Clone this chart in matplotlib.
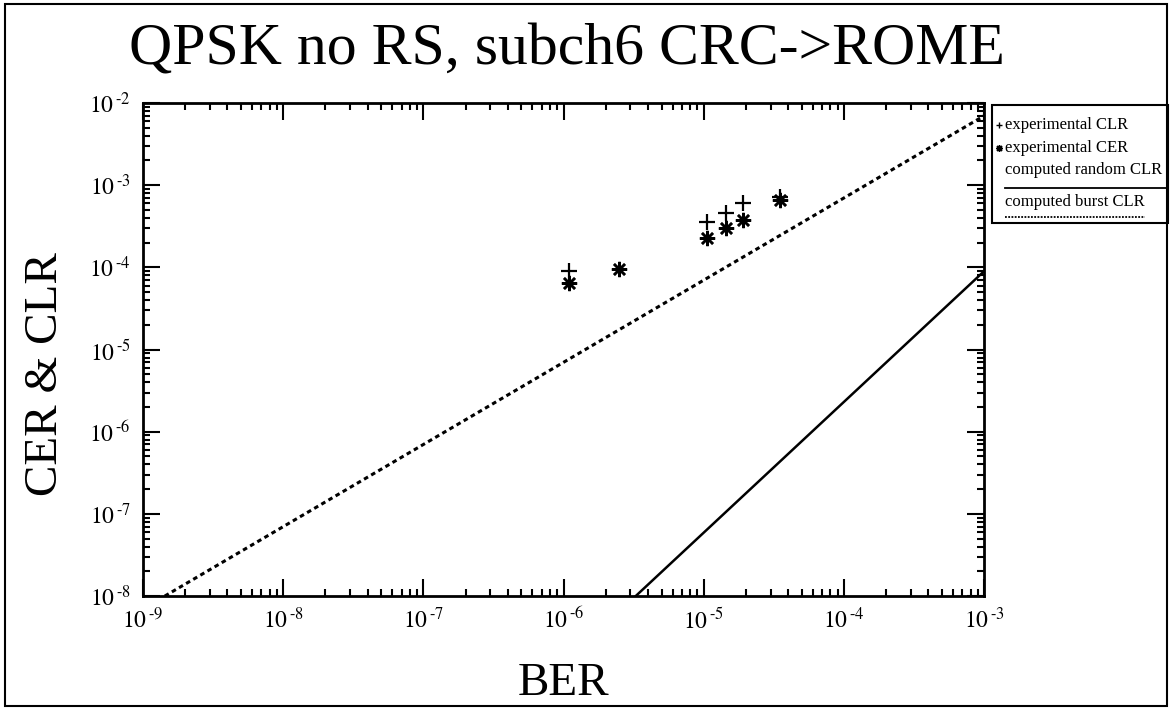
import numpy as np
import matplotlib
matplotlib.use("Agg")
import matplotlib.pyplot as plt
from matplotlib.ticker import LogLocator, FuncFormatter, NullFormatter, FixedLocator
from matplotlib.patches import Rectangle
from matplotlib.lines import Line2D

plt.rcParams['font.family'] = ['Liberation Serif', 'DejaVu Serif']
plt.rcParams['mathtext.fontset'] = 'stix'

# experimental points
clr_ber = [1.10e-6, 1.06e-5, 1.43e-5, 1.92e-5, 3.5e-5]
clr_val = [9.0e-5, 3.6e-4, 4.6e-4, 6.1e-4, 7.2e-4]
cer_ber = [1.10e-6, 2.47e-6, 1.06e-5, 1.43e-5, 1.92e-5, 3.5e-5]
cer_val = [6.4e-5, 9.5e-5, 2.3e-4, 3.0e-4, 3.8e-4, 6.6e-4]

# computed curves (straight lines on log-log axes)
random_ber = [3.27e-6, 1e-3]
random_clr = [1e-8, 9e-5]
burst_ber = [1.43e-9, 1e-3]
burst_clr = [1e-8, 7e-3]

legend_labels = ["experimental CLR", "experimental CER",
                 "computed random CLR", "computed burst CLR"]

x_decades = np.arange(-9, -2)
y_decades = np.arange(-8, -1)

fig = plt.figure(figsize=(11.73, 7.13), dpi=100)
ax = fig.add_axes([0.1219, 0.164, 0.7171, 0.6915])

star = (8, 2, 0)
ax.plot(random_ber, random_clr, color='black', lw=1.8)
ax.plot(burst_ber, burst_clr, color='black', lw=2.2, linestyle=(0, (1.5, 1.2)))
ax.plot(clr_ber, clr_val, linestyle='none', marker='+', ms=11, mew=1.6, color='black')
ax.plot(cer_ber, cer_val, linestyle='none', marker=star, ms=11, mew=1.8, color='black')

ax.set_xscale('log')
ax.set_yscale('log')
ax.set_xlim(10.0 ** x_decades[0], 10.0 ** x_decades[-1])
ax.set_ylim(10.0 ** y_decades[0], 10.0 ** y_decades[-1])

fmt = FuncFormatter(lambda v, p: r"$10^{\,\text{-}%d}$" % abs(int(round(np.log10(v)))))
for axis, dec in ((ax.xaxis, x_decades), (ax.yaxis, y_decades)):
    axis.set_major_locator(FixedLocator(10.0 ** dec))
    axis.set_minor_locator(LogLocator(base=10, subs=np.arange(2, 10), numticks=20))
    axis.set_major_formatter(fmt)
    axis.set_minor_formatter(NullFormatter())

ax.tick_params(which='both', direction='in', top=True, right=True, width=1.5)
ax.tick_params(which='major', length=12, labelsize=17, pad=8)
ax.tick_params(which='minor', length=5)
ax.tick_params(axis='y', which='major', pad=9)
for s in ax.spines.values():
    s.set_linewidth(2)

ax.set_xlabel("BER", fontsize=34)
ax.xaxis.set_label_coords(0.5, -0.135)
ax.set_ylabel("CER & CLR", fontsize=34)
ax.yaxis.set_label_coords(-0.09, 0.45)
fig.text(0.4836, 0.929, "QPSK no RS, subch6 CRC->ROME", fontsize=43,
         ha='center', va='center')

# legend box drawn by hand: markers left of text, lines under text
lx0, ly0, lw, lh = 0.846, 0.687, 0.15, 0.166
fig.add_artist(Rectangle((lx0, ly0), lw, lh, transform=fig.transFigure,
                         fill=False, lw=1.5, color='black'))
rows = [0.8247, 0.7924, 0.7616, 0.7167]
fig.add_artist(Line2D([lx0 + 0.006], [rows[0]], marker='+', ms=5, mew=1,
                      color='black', transform=fig.transFigure))
fig.add_artist(Line2D([lx0 + 0.006], [rows[1]], marker=star, ms=5, mew=1,
                      color='black', transform=fig.transFigure))
for i, lab in enumerate(legend_labels):
    fig.text(lx0 + 0.011, rows[i], lab, fontsize=12, va='center', ha='left')
fig.add_artist(Line2D([lx0 + 0.011, lx0 + lw - 0.002], [0.7363] * 2,
                      color='black', lw=1.3, transform=fig.transFigure))
fig.add_artist(Line2D([lx0 + 0.011, lx0 + 0.13], [0.6957] * 2,
                      color='black', lw=1.3, linestyle=(0, (1, 0.8)),
                      transform=fig.transFigure))

# slide frame
fig.add_artist(Rectangle((0.004, 0.01), 0.991, 0.985, transform=fig.transFigure,
                         fill=False, lw=1.5, color='black'))

fig.savefig("out.png", dpi=100)
